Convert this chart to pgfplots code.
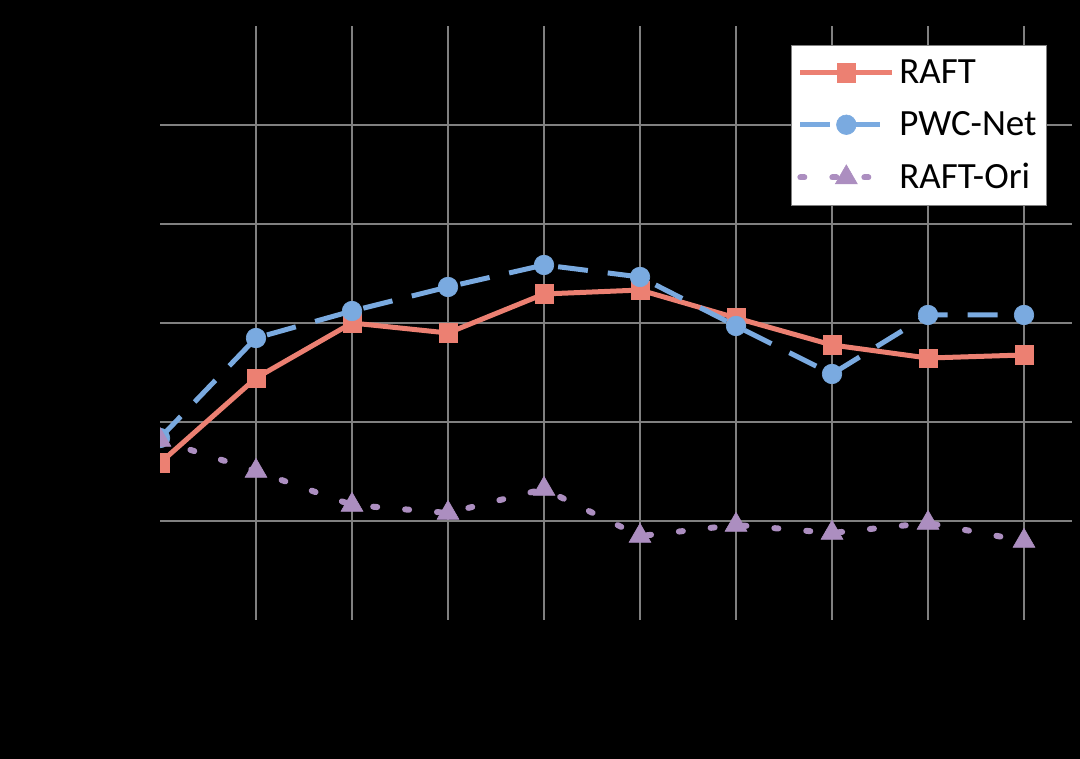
\documentclass[border=0pt]{standalone}
\usepackage{pgfplots}
\pgfplotsset{compat=1.18}
\usepackage{fontspec}
\setmainfont{Carlito}
\definecolor{raft}{RGB}{236,128,114}
\definecolor{pwc}{RGB}{122,170,224}
\definecolor{ori}{RGB}{172,142,192}
\definecolor{gridc}{RGB}{128,128,128}
\begin{document}
\begin{tikzpicture}
\fill[black] (0,0) rectangle (540pt,379.5pt);
\begin{axis}[
  at={(80pt,69.5pt)}, anchor=south west,
  scale only axis, width=456pt, height=297pt,
  xmin=0, xmax=9.5, ymin=0, ymax=6,
  xtick={1,...,9}, ytick={1,...,5},
  xticklabels={}, yticklabels={},
  major tick length=0pt,
  grid=major,
  major grid style={gridc, line width=1pt},
  axis line style={draw=none},
  clip marker paths=true,
  legend style={at={(0.9726,0.968)}, anchor=north east, fill=white, draw=gridc, line width=0.5pt,
    font=\fontsize{18.5}{22}\selectfont, row sep=8.5pt, inner xsep=3pt, inner ysep=5pt},
  legend cell align=left,
  legend image code/.code={
    \draw[mark repeat=2,mark phase=2,#1] plot coordinates {(0pt,0pt) (23pt,0pt) (46pt,0pt)};
  },
]
\addplot[raft, line width=2.5pt, mark=square*, mark size=4.6pt, mark options={solid, line width=0.3pt}] coordinates {
 (0,1.586) (1,2.444) (2,3.000) (3,2.899) (4,3.293) (5,3.333) (6,3.051) (7,2.778) (8,2.646) (9,2.677)};
\addlegendentry{RAFT}
\addplot[pwc, line width=2.5pt, dash pattern=on 15pt off 10pt, mark=*, mark size=4.9pt, mark options={solid, line width=0.3pt}] coordinates {
 (0,1.838) (1,2.848) (2,3.121) (3,3.364) (4,3.586) (5,3.465) (6,2.970) (7,2.485) (8,3.081) (9,3.081)};
\addlegendentry{PWC-Net}
\addplot[ori, line width=3pt, line cap=round, dash pattern=on 2pt off 14pt, mark=triangle*, mark size=6.3pt, mark options={solid, line width=0.3pt}] coordinates {
 (0,1.818) (1,1.505) (2,1.162) (3,1.081) (4,1.323) (5,0.848) (6,0.960) (7,0.879) (8,0.980) (9,0.798)};
\addlegendentry{RAFT-Ori}
\end{axis}
\end{tikzpicture}
\end{document}
